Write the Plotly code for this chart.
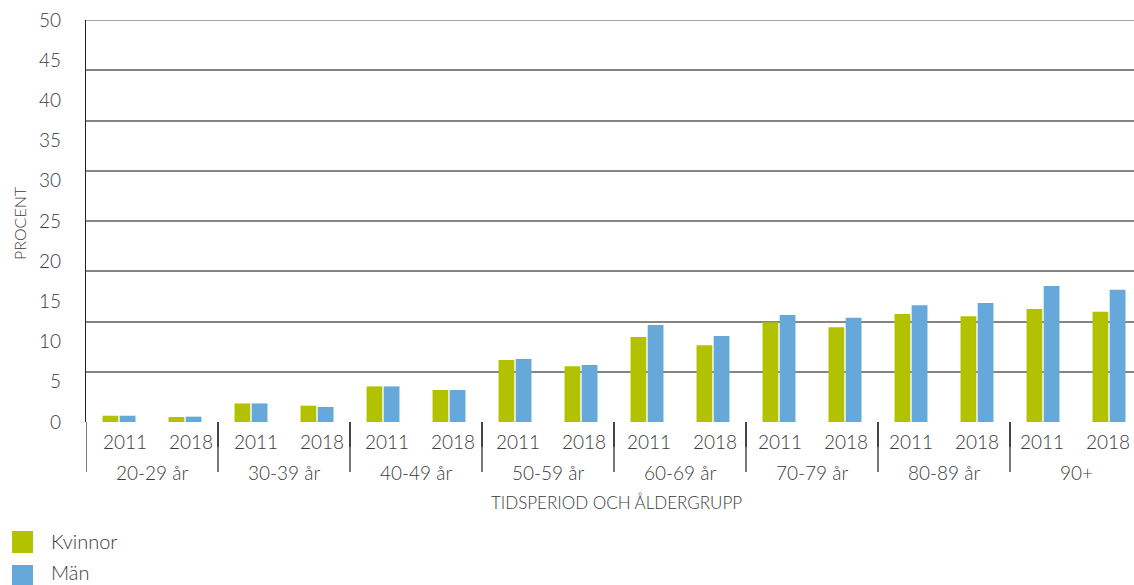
import plotly.graph_objects as go

# Age groups, periods and shares (percent) per sex
age_groups = ["20-29 år", "30-39 år", "40-49 år", "50-59 år",
              "60-69 år", "70-79 år", "80-89 år", "90+"]
periods = ["2011", "2018"]
kvinnor = [0.78, 0.62, 2.31, 2.03, 4.43, 3.98, 7.71, 6.93,
           10.57, 9.54, 12.40, 11.78, 13.43, 13.14, 14.05, 13.72]
man = [0.78, 0.66, 2.31, 1.87, 4.43, 3.98, 7.84, 7.09,
       12.06, 10.70, 13.30, 12.98, 14.51, 14.80, 16.90, 16.46]
y_ticks = list(range(0, 51, 5))

GREEN = "#B2C200"
BLUE = "#65A8D9"
TEXT = "#3a3a3a"
FONT = "Lato"

W, H = 1134, 585
L, R, T, B = 86, 0, 20, 163
PW, PH = W - L - R, H - T - B
SLOT = 66.0  # px per category slot


def px_x(p):
    return (p - L) / PW


def px_y(p):
    return (H - B - p) / PH


n = len(kvinnor)
xs = list(range(n))

fig = go.Figure()
fig.add_trace(go.Bar(x=xs, y=kvinnor, name="Kvinnor", marker_color=GREEN,
                     marker_line_width=0, showlegend=False))
fig.add_trace(go.Bar(x=xs, y=man, name="Män", marker_color=BLUE,
                     marker_line_width=0, showlegend=False))
# empty trace carrying the grid axis
fig.add_trace(go.Scatter(x=[], y=[], yaxis="y2", showlegend=False, hoverinfo="skip"))

x_max = -0.5 + PW / SLOT

shapes = []
annotations = []
lab_font = dict(family=FONT, size=19, color=TEXT, weight=300)

# period ticks and group dividers below the axis
for g in range(len(age_groups)):
    left = 2 * g - 0.5
    shapes.append(dict(type="line", xref="x", yref="paper", x0=left, x1=left,
                       y0=0, y1=px_y(472), line=dict(color="#222", width=1.2)))
    shapes.append(dict(type="line", xref="x", yref="paper", x0=left + 2, x1=left + 2,
                       y0=0, y1=px_y(447), line=dict(color="#222", width=1.2)))
    annotations.append(dict(x=2 * g + 0.5, y=px_y(472), xref="x", yref="paper",
                            text=age_groups[g], showarrow=False, yanchor="middle",
                            font=lab_font))
    for k, per in enumerate(periods):
        i = 2 * g + k
        annotations.append(dict(x=i, y=px_y(441), xref="x", yref="paper",
                                text=per, showarrow=False, yanchor="middle",
                                xshift=6 - 0.49 * i, font=lab_font))

# top border line at 50
shapes.append(dict(type="line", xref="paper", yref="y", x0=0, x1=1, y0=50, y1=50,
                   line=dict(color="#858585", width=1.6)))

# axis titles
annotations.append(dict(x=px_x(616), y=px_y(502), xref="paper", yref="paper",
                        text="TIDSPERIOD OCH ÅLDERGRUPP", showarrow=False,
                        yanchor="middle", font=dict(family=FONT, size=17, color=TEXT, weight=300)))
annotations.append(dict(x=px_x(19), y=px_y(223), xref="paper", yref="paper",
                        text="PROCENT", showarrow=False, textangle=-90,
                        xanchor="center", yanchor="middle",
                        font=dict(family=FONT, size=16, color=TEXT, weight=300)))

# legend
for i, (label, col) in enumerate([("Kvinnor", GREEN), ("Män", BLUE)]):
    top = 531 + 34 * i
    shapes.append(dict(type="rect", xref="paper", yref="paper",
                       x0=px_x(12), x1=px_x(33), y0=px_y(top), y1=px_y(top + 22),
                       fillcolor=col, line=dict(width=0)))
    annotations.append(dict(x=px_x(49), y=px_y(top + 10 - 3 * i), xref="paper", yref="paper",
                            text=label, showarrow=False, xanchor="left", yanchor="middle",
                            font=dict(family=FONT, size=20, color=TEXT, weight=300)))

fig.update_layout(
    width=W, height=H,
    margin=dict(l=L, r=R, t=T, b=B),
    plot_bgcolor="white", paper_bgcolor="white",
    barmode="group", bargap=0.48, bargroupgap=0.08,
    xaxis=dict(range=[-0.5, x_max], showticklabels=False, showgrid=False,
               zeroline=False, showline=False, ticks=""),
    yaxis=dict(range=[0, 50], tickvals=y_ticks, showgrid=False, zeroline=False,
               showline=True, linecolor="#222", linewidth=1.2, ticks="",
               ticklabelstandoff=20,
               tickfont=dict(family=FONT, size=19, color=TEXT, weight=300)),
    yaxis2=dict(range=[0, 50], overlaying="y", tick0=0, dtick=6.25,
                showgrid=True, gridcolor="#858585", gridwidth=1.6,
                showticklabels=False, zeroline=False, showline=False, ticks=""),
    shapes=shapes,
    annotations=annotations,
    showlegend=False,
)

fig.write_html("out.html")
